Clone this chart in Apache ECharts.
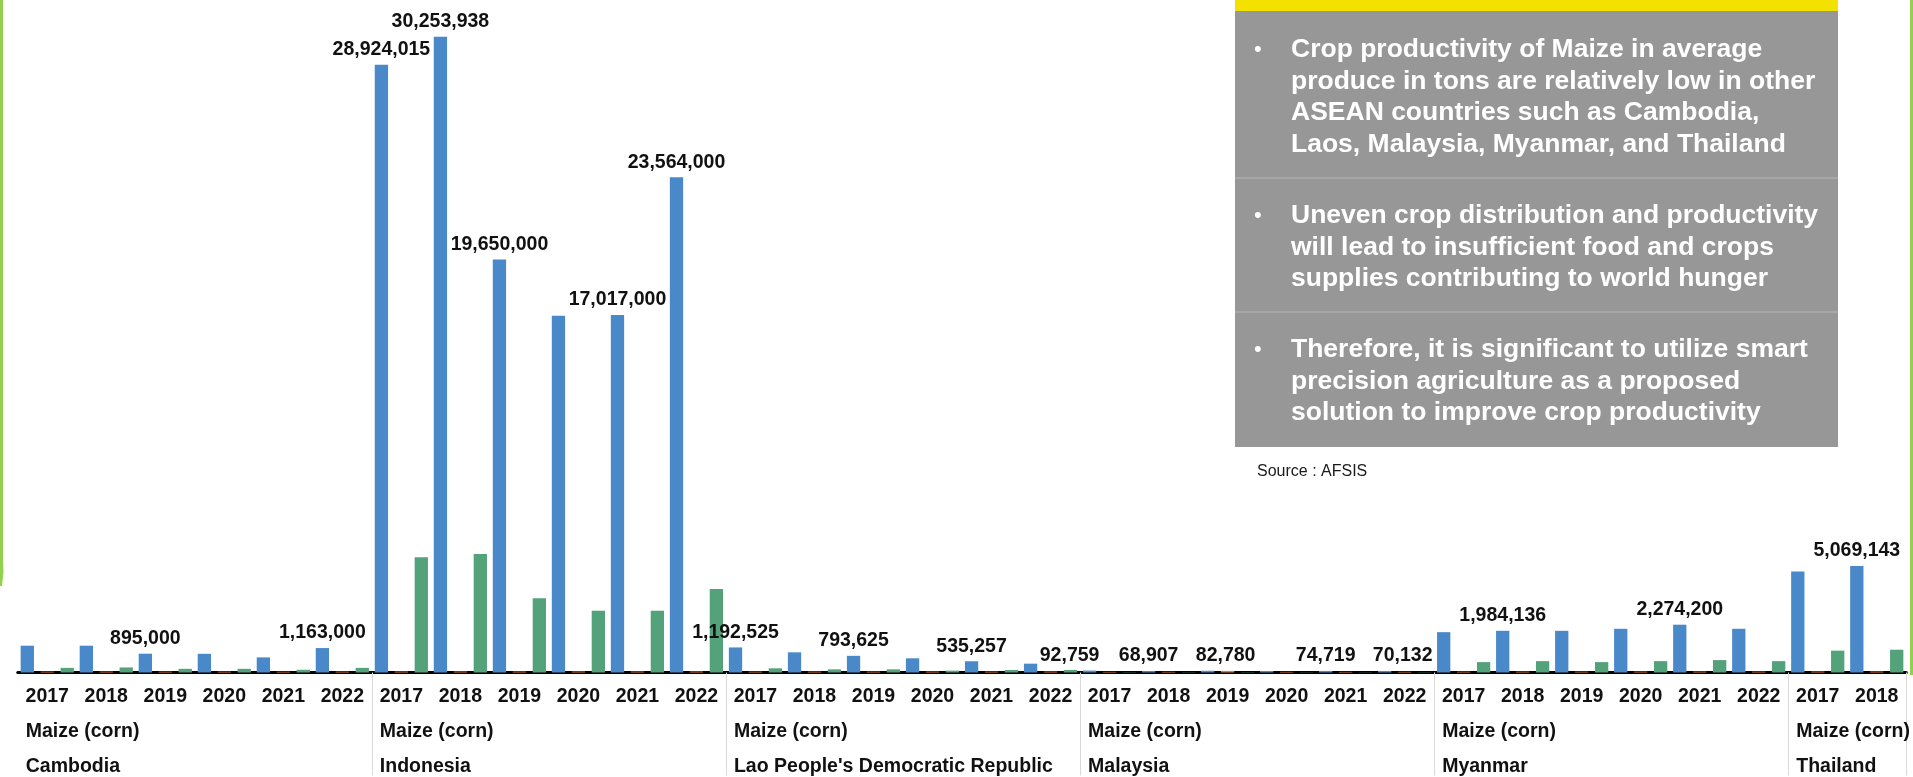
<!DOCTYPE html>
<html>
<head>
<meta charset="utf-8">
<title>Maize (corn) - ASEAN</title>
<script src="https://cdn.jsdelivr.net/npm/echarts@6/dist/echarts.min.js"></script>
<style>
  html, body { margin: 0; padding: 0; background: #fff; }
  #chart { width: 1913px; height: 777px; }
</style>
</head>
<body>
<div id="chart"></div>
<script>
// x axis: year / crop / country
var years = [
  '2017', '2018', '2019', '2020', '2021', '2022',
  '2017', '2018', '2019', '2020', '2021', '2022',
  '2017', '2018', '2019', '2020', '2021', '2022',
  '2017', '2018', '2019', '2020', '2021', '2022',
  '2017', '2018', '2019', '2020', '2021', '2022',
  '2017', '2018'
];
var crop = 'Maize (corn)';
var countries = ['Cambodia', 'Indonesia', "Lao People's Democratic Republic", 'Malaysia', 'Myanmar', 'Thailand'];

// bar values, one per year column
var blueValues = [
  1275000, 1275000, 895000, 890000, 720000, 1163000,
  28924015, 30253938, 19650000, 16970000, 17017000, 23564000,
  1192525, 960000, 793625, 675000, 535257, 420000,
  92759, 68907, 82780, 72000, 74719, 70132,
  1920000, 1984136, 1984000, 2080000, 2274200, 2080000,
  4810000, 5069143
];
var orangeValues = [
  40000, 42000, 38000, 40000, 36000, 41000,
  45000, 47000, 44000, 46000, 45000, 47000,
  39000, 41000, 40000, 42000, 40000, 43000,
  30000, 32000, 75000, 31000, 30000, 33000,
  38000, 40000, 39000, 41000, 42000, 40000,
  44000, 45000
];
var greenValues = [
  220000, 240000, 175000, 175000, 130000, 220000,
  5480000, 5640000, 3530000, 2940000, 2940000, 3970000,
  200000, 150000, 150000, 90000, 120000, 120000,
  12000, 11000, 12000, 11000, 10000, 11000,
  495000, 540000, 495000, 540000, 590000, 540000,
  1040000, 1085000
];

// which blue bars carry a value label
var labelled = [2, 5, 6, 7, 8, 10, 11, 12, 14, 16, 18, 19, 20, 22, 23, 25, 28, 31];
// labels nudged sideways to dodge their neighbours
var labelShift = { 18: -20, 20: 18, 23: 18 };

var notes = [
  ['Crop productivity of Maize in average', 'produce in tons are relatively low in other',
   'ASEAN countries such as Cambodia,', 'Laos, Malaysia, Myanmar, and Thailand'],
  ['Uneven crop distribution and productivity', 'will lead to insufficient food and crops',
   'supplies contributing to world hunger'],
  ['Therefore, it is significant to utilize smart', 'precision agriculture as a proposed',
   'solution to improve crop productivity']
];
var source = 'Source : AFSIS';

var labelFont = '"Liberation Sans", Arial, sans-serif';
var axisSize = 19.5;

var blueData = blueValues.map(function (v, i) {
  if (labelled.indexOf(i) < 0) return v;
  return { value: v, label: { show: true, offset: [labelShift[i] || 0, 0] } };
});

function rowAxis(margin, pick) {
  return {
    type: 'value', gridIndex: 0, position: 'bottom',
    min: 0, max: 32, interval: 6,
    axisLine: { show: false }, axisTick: { show: false }, splitLine: { show: false },
    axisLabel: {
      showMaxLabel: false, align: 'left', margin: margin, padding: [0, 0, 0, 8],
      fontFamily: labelFont, fontWeight: 'bold', fontSize: axisSize, color: '#111',
      formatter: function (v) {
        var g = Math.round(v / 6);
        return (v % 6 === 0 && g < countries.length) ? pick(g) : '';
      }
    }
  };
}

// slide decoration and the note panel on the right
var graphics = [
  { type: 'rect', shape: { x: 0, y: 0, width: 3, height: 560 }, style: { fill: '#92D050' } },
  { type: 'polygon', shape: { points: [[0, 560], [3, 560], [3.5, 572], [2, 586], [0, 586]] }, style: { fill: '#92D050' } },
  { type: 'rect', shape: { x: 1910, y: 0, width: 3, height: 675 }, style: { fill: '#92D050' } },
  { type: 'rect', shape: { x: 1235, y: 0, width: 603, height: 11 }, style: { fill: '#F3E100' } },
  { type: 'rect', shape: { x: 1235, y: 11, width: 603, height: 436 }, style: { fill: '#979797' } },
  { type: 'line', shape: { x1: 1235, y1: 178, x2: 1838, y2: 178 }, style: { stroke: '#a6a6a6', lineWidth: 2 } },
  { type: 'line', shape: { x1: 1235, y1: 312, x2: 1838, y2: 312 }, style: { stroke: '#a6a6a6', lineWidth: 2 } },
  { type: 'text', x: 1257, y: 472, style: { text: source, fill: '#1a1a1a', font: '16px ' + labelFont, verticalAlign: 'middle' } }
];
var noteTops = [50, 216, 350];
notes.forEach(function (lines, k) {
  graphics.push({ type: 'text', x: 1254, y: noteTops[k], style: {
    text: '•', fill: '#fff', font: '22px ' + labelFont, verticalAlign: 'middle' } });
  graphics.push({ type: 'text', x: 1291, y: noteTops[k] - 15.75, style: {
    text: lines.join('\n'), fill: '#fff', font: 'bold 26.5px ' + labelFont, lineHeight: 31.5 } });
});

var chart = echarts.init(document.getElementById('chart'));
chart.setOption({
  animation: false,
  backgroundColor: '#fff',
  grid: { left: 17.75, right: 3.7, top: 0, bottom: 104.5, containLabel: false },
  xAxis: [
    {
      type: 'category', data: years, gridIndex: 0, position: 'bottom', offset: 2,
      axisLine: { lineStyle: { color: '#000', width: 3 } },
      axisTick: {
        show: true, length: 103,
        interval: function (i) { return i > 0 && i % 6 === 0; },
        lineStyle: { color: '#d9d9d9', width: 1 }
      },
      axisLabel: { interval: 0, margin: 12, fontFamily: labelFont, fontWeight: 'bold', fontSize: axisSize, color: '#111' }
    },
    rowAxis(49, function () { return crop; }),
    rowAxis(84, function (g) { return countries[g]; })
  ],
  yAxis: { type: 'value', min: 0, max: 32000000, show: false },
  series: [
    {
      name: 'blue', type: 'bar', data: blueData, barWidth: 13.3, barGap: '50%',
      itemStyle: { color: '#4A89C9' },
      label: {
        show: false, position: 'top', distance: 5,
        fontFamily: labelFont, fontWeight: 'bold', fontSize: 19.5, color: '#111',
        formatter: function (p) { return Number(p.value).toLocaleString('en-US'); }
      }
    },
    { name: 'orange', type: 'bar', data: orangeValues, barWidth: 13.3, barGap: '50%', itemStyle: { color: '#E0782F' } },
    { name: 'green', type: 'bar', data: greenValues, barWidth: 13.3, barGap: '50%', itemStyle: { color: '#54A27A' } }
  ],
  graphic: { elements: graphics }
});
</script>
</body>
</html>
